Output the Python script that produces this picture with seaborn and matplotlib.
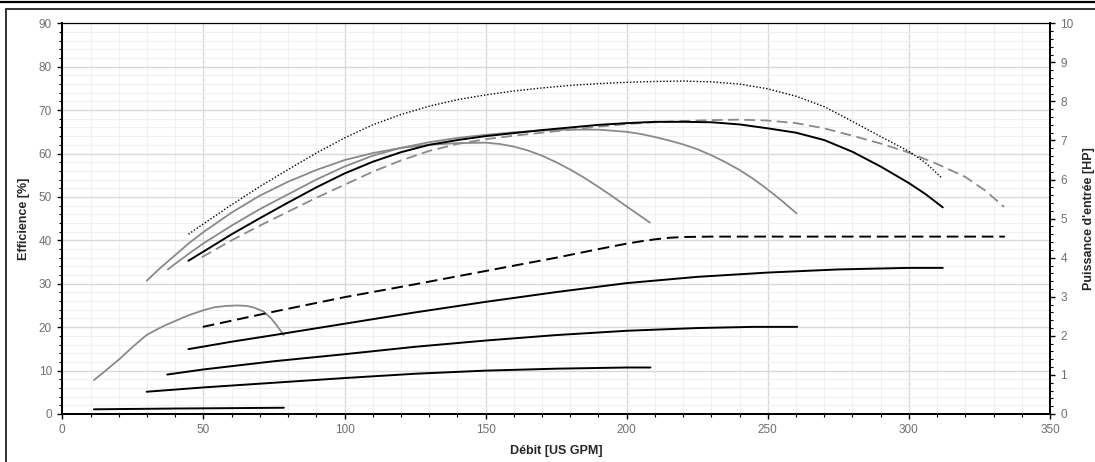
import numpy as np
import matplotlib
matplotlib.use("Agg")
import matplotlib.pyplot as plt
import seaborn as sns
from matplotlib.ticker import MultipleLocator
from matplotlib.patches import Rectangle
from matplotlib.lines import Line2D

# --- efficiency curves [%] (left axis) ---
eff_dot_x = [44.7, 50, 60, 70, 80, 90, 100, 110, 120, 130, 140, 150, 160, 170, 180, 190, 200,
             210, 220, 230, 240, 250, 260, 270, 280, 290, 300, 306, 311.8]
eff_dot_y = [41.4, 43.8, 48.2, 52.4, 56.3, 60.1, 63.6, 66.6, 69.0, 70.9, 72.4, 73.5, 74.4, 75.1,
             75.7, 76.1, 76.4, 76.6, 76.7, 76.5, 76.0, 74.9, 73.2, 70.8, 67.4, 63.9, 60.5, 57.8, 54.3]

eff_black_x = [44.7, 50, 60, 70, 80, 90, 100, 110, 120, 130, 140, 150, 160, 170, 180, 190, 200,
               210, 220, 230, 240, 250, 260, 270, 280, 290, 300, 306, 312]
eff_black_y = [35.3, 37.4, 41.4, 45.1, 48.7, 52.2, 55.4, 58.1, 60.3, 62.0, 63.1, 64.0, 64.7, 65.4,
               66.0, 66.6, 67.0, 67.3, 67.3, 67.2, 66.7, 65.8, 64.8, 63.1, 60.4, 57.0, 53.2, 50.6, 47.6]

eff_gdash_x = [49.4, 60, 70, 80, 90, 100, 110, 120, 130, 140, 150, 160, 170, 180, 190, 200, 210,
               220, 230, 240, 250, 260, 270, 280, 290, 300, 310, 320, 327, 333.7]
eff_gdash_y = [36.1, 40.0, 43.4, 46.6, 49.8, 52.8, 55.8, 58.4, 60.6, 62.2, 63.3, 64.1, 64.8, 65.5,
               66.2, 66.8, 67.2, 67.5, 67.7, 67.8, 67.6, 67.0, 65.8, 64.1, 62.3, 60.2, 57.6, 54.6,
               51.5, 47.7]

eff_g1_x = [29.9, 35, 40, 45, 50, 60, 70, 80, 90, 100, 110, 120, 130, 140, 150, 155, 160, 165,
            170, 175, 180, 185, 190, 195, 200, 204, 208.2]
eff_g1_y = [30.7, 33.8, 36.6, 39.4, 41.9, 46.4, 50.3, 53.5, 56.2, 58.5, 60.1, 61.3, 62.0, 62.4,
            62.5, 62.2, 61.6, 60.7, 59.5, 58.0, 56.3, 54.4, 52.3, 50.1, 47.8, 46.0, 44.1]

eff_g2_x = [37.4, 40, 45, 50, 60, 70, 80, 90, 100, 110, 120, 130, 140, 150, 160, 170, 180, 190,
            200, 205, 210, 215, 220, 225, 230, 235, 240, 245, 250, 255, 260.2]
eff_g2_y = [33.3, 34.6, 37.0, 39.3, 43.4, 47.2, 50.6, 54.0, 57.0, 59.5, 61.3, 62.6, 63.6, 64.3,
            64.9, 65.3, 65.5, 65.5, 65.0, 64.5, 63.8, 63.0, 62.1, 61.0, 59.6, 58.0, 56.2, 54.1,
            51.7, 49.1, 46.2]

eff_g3_x = [11.2, 15, 20.5, 25, 29.9, 33, 36, 40.6, 45, 50, 54, 58.3, 62, 65.4, 68, 71.3, 74, 76,
            78.4]
eff_g3_y = [7.8, 9.8, 12.8, 15.5, 18.2, 19.3, 20.3, 21.6, 22.8, 23.9, 24.6, 24.9, 25.0, 24.9,
            24.5, 23.6, 22.0, 20.4, 18.2]

# --- input power curves [HP] (right axis) ---
hp_dash_x = [49.8, 75, 100, 125, 150, 175, 190, 200, 205, 210, 215, 220, 230, 240, 334]
hp_dash_y = [2.23, 2.62, 2.99, 3.32, 3.66, 4.00, 4.22, 4.36, 4.42, 4.47, 4.51, 4.53, 4.54, 4.54,
             4.54]

hp_1_x = [44.7, 60, 75, 100, 125, 150, 175, 200, 225, 250, 275, 300, 312]
hp_1_y = [1.66, 1.85, 2.02, 2.31, 2.60, 2.87, 3.12, 3.35, 3.51, 3.62, 3.70, 3.74, 3.74]

hp_2_x = [37.2, 50, 75, 100, 125, 150, 175, 200, 225, 245, 260.4]
hp_2_y = [1.01, 1.14, 1.35, 1.53, 1.72, 1.88, 2.02, 2.13, 2.20, 2.23, 2.23]

hp_3_x = [29.9, 50, 75, 100, 125, 150, 175, 200, 208.4]
hp_3_y = [0.57, 0.68, 0.80, 0.92, 1.03, 1.11, 1.16, 1.19, 1.19]

hp_4_x = [11.2, 40, 60, 78.5]
hp_4_y = [0.12, 0.14, 0.15, 0.16]

sns.set_style("white")
plt.rcParams['font.family'] = ['Liberation Sans', 'DejaVu Sans']

fig = plt.figure(figsize=(10.95, 4.62), dpi=100)
ax = fig.add_axes([0.0569, 0.1039, 0.9020, 0.8457])
ax2 = ax.twinx()

GRAY = '#8a8a8a'
BLACK = '#000000'

# grid
ax.xaxis.set_major_locator(MultipleLocator(50))
ax.xaxis.set_minor_locator(MultipleLocator(10))
ax.yaxis.set_major_locator(MultipleLocator(10))
ax.yaxis.set_minor_locator(MultipleLocator(2))
ax.grid(which='major', color='#dadada', lw=1.0)
ax.grid(which='minor', color='#f0f0f0', lw=0.8)
ax.set_axisbelow(True)

sns.lineplot(x=eff_g3_x, y=eff_g3_y, ax=ax, color=GRAY, lw=1.3)
sns.lineplot(x=eff_g1_x, y=eff_g1_y, ax=ax, color=GRAY, lw=1.3)
sns.lineplot(x=eff_g2_x, y=eff_g2_y, ax=ax, color=GRAY, lw=1.3)
sns.lineplot(x=eff_gdash_x, y=eff_gdash_y, ax=ax, color=GRAY, lw=1.3, linestyle=(0, (6, 3)))
sns.lineplot(x=eff_black_x, y=eff_black_y, ax=ax, color=BLACK, lw=1.4)
sns.lineplot(x=eff_dot_x, y=eff_dot_y, ax=ax, color=BLACK, lw=1.0, linestyle=(0, (1, 1.4)))

sns.lineplot(x=hp_dash_x, y=hp_dash_y, ax=ax2, color=BLACK, lw=1.4, linestyle=(0, (6, 3)))
for hx, hy in [(hp_1_x, hp_1_y), (hp_2_x, hp_2_y), (hp_3_x, hp_3_y), (hp_4_x, hp_4_y)]:
    sns.lineplot(x=hx, y=hy, ax=ax2, color=BLACK, lw=1.4)

ax.set_xlim(0, 350)
ax.set_ylim(0, 90)
ax2.set_ylim(0, 10)
ax2.yaxis.set_major_locator(MultipleLocator(1))
ax2.yaxis.set_minor_locator(MultipleLocator(0.2))

for a in (ax, ax2):
    for s in a.spines.values():
        s.set_color('black')
        s.set_linewidth(1.4)
    a.spines['top'].set_linewidth(0.8)
    a.tick_params(which='major', direction='out', length=3.5, width=1, color='black',
                  labelsize=8.5, labelcolor='#707070', pad=4)
    a.tick_params(which='minor', direction='out', length=2, width=0.8, color='black')

ax.tick_params(axis='x', which='both', bottom=True)
ax.tick_params(axis='y', which='both', left=True)
ax2.tick_params(axis='y', which='both', right=True)

ax.set_xlabel('Débit [US GPM]', fontsize=9, fontweight='bold', labelpad=6)
ax.set_ylabel('Efficience [%]', fontsize=9, fontweight='bold', labelpad=6)
ax2.set_ylabel("Puissance d'entrée [HP]", fontsize=9, fontweight='bold', labelpad=7)

# outer frame
fig.add_artist(Rectangle((6 / 1095, -0.05), 1.1, 1 - 9 / 462 + 0.05, transform=fig.transFigure,
                         fill=False, edgecolor='#333333', lw=1.4))
fig.add_artist(Line2D([0, 1], [1 - 1.5 / 462, 1 - 1.5 / 462], transform=fig.transFigure,
                      color='black', lw=1.6))

fig.savefig('out.png', dpi=100)
